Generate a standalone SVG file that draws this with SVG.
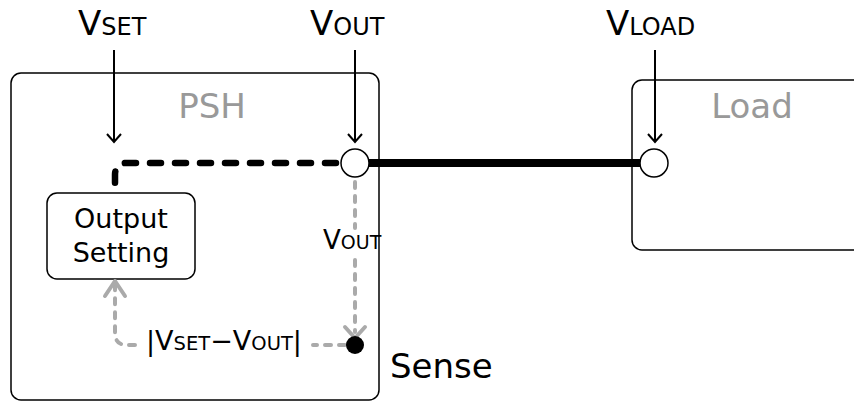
<svg xmlns="http://www.w3.org/2000/svg" width="854" height="403" viewBox="0 0 854 403">
<style>
text{font-family:"DejaVu Sans","Liberation Sans",sans-serif;fill:#000}
.box{fill:#fff;stroke:#000;stroke-width:1.5}
.title{fill:#999;font-size:34px}
.thin{fill:none;stroke:#000;stroke-width:2}
.gray{fill:none;stroke:#aaa;stroke-width:4;stroke-linecap:round;stroke-dasharray:6,8}
.grayhead{fill:none;stroke:#aaa;stroke-width:4;stroke-linecap:round;stroke-linejoin:round}
.blackdash{fill:none;stroke:#000;stroke-width:6.5;stroke-linecap:round;stroke-dasharray:11,14}
</style>
<g id="psh">
<rect class="box" x="11" y="73" width="368" height="327" rx="10"/>
<text class="title" x="212" y="118" text-anchor="middle">PSH</text>
</g>
<g id="load">
<rect class="box" x="632" y="80" width="240" height="170" rx="10"/>
<text class="title" x="752" y="118" text-anchor="middle">Load</text>
</g>
<g id="output-setting">
<rect class="box" x="47" y="193" width="148" height="86" rx="10"/>
<text x="121" y="228" font-size="27" text-anchor="middle">Output</text>
<text x="121" y="262" font-size="27" text-anchor="middle">Setting</text>
</g>
<g id="labels">
<text x="78" y="35" font-size="34">V<tspan font-size="24">SET</tspan></text>
<text x="310" y="35" font-size="34">V<tspan font-size="24">OUT</tspan></text>
<text x="606" y="35" font-size="34">V<tspan font-size="24">LOAD</tspan></text>
<text x="323" y="249" font-size="26">V<tspan font-size="19">OUT</tspan></text>
<text x="146" y="350" font-size="27">|V<tspan font-size="19.5">SET</tspan>−V<tspan font-size="19.5">OUT</tspan>|</text>
<text x="390" y="378" font-size="34">Sense</text>
</g>
<g id="connectors">
<path class="thin" d="M114,50V142M107,134L114,142L121,134"/>
<path class="thin" d="M355,50V142M348,134L355,142L362,134"/>
<path class="thin" d="M655,50V142M648,134L655,142L662,134"/>
<path class="blackdash" d="M336,163H127Q115,163 115,175V190"/>
<line x1="369" y1="163" x2="641" y2="163" stroke="#000" stroke-width="8"/>
<path class="gray" d="M355,182V228"/>
<path class="gray" d="M355,260V332"/>
<path class="grayhead" d="M345,327L355,338L365,327"/>
<path class="gray" d="M345,345H313"/>
<path class="gray" d="M135,345H127Q115,345 115,333V286"/>
<path class="grayhead" d="M105,296L115,281L125,296"/>
</g>
<g id="terminals">
<circle cx="355" cy="163" r="14" fill="#fff" stroke="#000" stroke-width="1.5"/>
<circle cx="654" cy="163" r="14" fill="#fff" stroke="#000" stroke-width="1.5"/>
<circle cx="355" cy="345" r="9" fill="#000"/>
</g>
</svg>
